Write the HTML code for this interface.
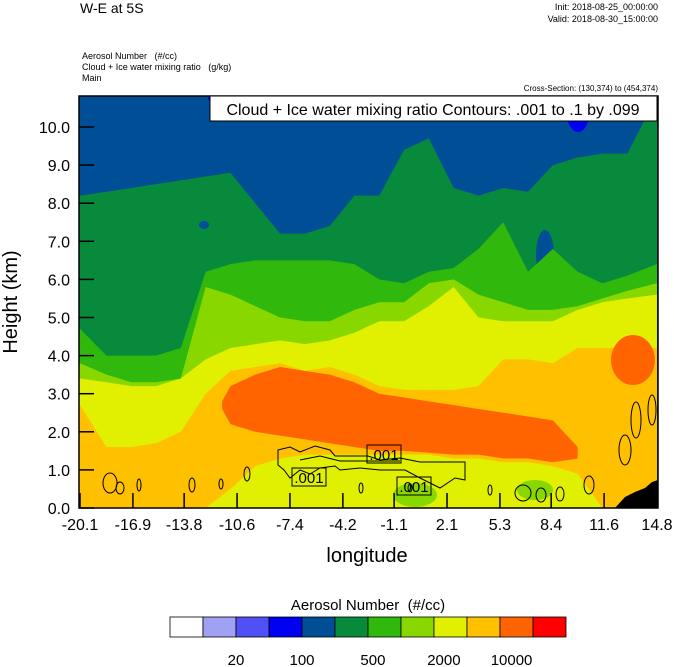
<!DOCTYPE html>
<html><head><meta charset="utf-8"><style>
body{margin:0;background:#fff;width:674px;height:667px;overflow:hidden;font-family:"Liberation Sans",sans-serif}
svg{position:absolute;left:0;top:0}
</style></head><body>
<svg id="chart" width="674" height="667" font-family="Liberation Sans, sans-serif">
<defs><clipPath id="pc"><rect x="79" y="96" width="579" height="412"/></clipPath></defs>
<text x="80" y="13" font-size="14">W-E at 5S</text>
<text x="658" y="10" font-size="9" text-anchor="end">Init: 2018-08-25_00:00:00</text>
<text x="658" y="22" font-size="9" text-anchor="end">Valid: 2018-08-30_15:00:00</text>
<text x="82" y="59" font-size="9" xml:space="preserve">Aerosol Number   (#/cc)</text>
<text x="82" y="70" font-size="9" xml:space="preserve">Cloud + Ice water mixing ratio   (g/kg)</text>
<text x="82" y="81" font-size="9">Main</text>
<text x="658" y="91" font-size="8" text-anchor="end">Cross-Section: (130,374) to (454,374)</text>
<g id="field" clip-path="url(#pc)"></g>
<g id="axes"></g>
<rect x="210" y="96" width="447" height="25" fill="#fff" stroke="#000" stroke-width="1"/>
<text x="433" y="115" font-size="16" text-anchor="middle">Cloud + Ice water mixing ratio Contours: .001 to .1 by .099</text>
<text transform="translate(17,302) rotate(-90)" font-size="20" text-anchor="middle">Height (km)</text>
<text x="367" y="562" font-size="20" text-anchor="middle">longitude</text>
<text x="368" y="610" font-size="15" text-anchor="middle" xml:space="preserve">Aerosol Number  (#/cc)</text>
<g id="cbar"></g>
</svg>
<script>
const NS="http://www.w3.org/2000/svg";
const lons=[-20.1,-18.5,-17,-15.5,-14,-12.5,-11,-9.5,-8,-6.5,-5,-3.5,-2,-0.5,1,2.5,4,5.5,7,8.5,10,11.5,13,14.8];
const greenTop=[8.2,8.3,8.4,8.5,8.6,8.7,8.8,8.0,7.2,7.2,7.4,8.2,8.2,9.4,9.7,8.4,8.2,8.4,8.3,9.0,9.2,9.3,9.3,10.8];
const lightGreenTop=[4.7,4.0,4.0,4.0,4.2,6.2,6.4,6.5,6.5,6.5,6.5,6.4,6.0,5.9,6.2,6.3,6.8,7.5,6.2,6.8,6.2,5.9,6.1,6.4];
const yellowGreenTop=[3.8,3.5,3.3,3.3,3.4,5.8,5.6,5.3,5.0,4.9,4.9,5.2,5.4,5.4,5.9,6.0,5.6,5.4,5.2,5.2,5.3,5.5,5.7,5.9];
const yellowTop=[3.4,3.3,3.2,3.2,3.4,3.9,4.2,4.3,4.4,4.3,4.4,4.6,4.9,4.9,5.3,5.8,5.0,4.9,4.9,4.9,5.2,5.4,5.5,5.6];
const orangeTop=[2.7,1.6,1.6,1.7,2.0,3.0,3.6,3.7,3.8,3.6,3.7,3.5,3.2,3.1,3.1,3.1,3.2,3.9,3.9,3.8,4.2,4.2,4.2,4.2];
const orangeLow=[0,0,0,0,0,0,0.5,1.1,1.3,1.4,1.4,1.4,1.4,1.4,1.4,1.3,1.3,1.2,1.2,1.1,0.9,0,0,0];
const darkLons=[-11.5,-11,-9.5,-8,-6.5,-5,-3.5,-2,-0.5,1,2.5,4,5.5,7,8.5,10];
const darkTop=[2.8,3.2,3.5,3.7,3.6,3.5,3.3,3.0,2.9,2.8,2.7,2.6,2.5,2.4,2.3,1.6];
const darkLow=[2.6,2.2,2.0,1.9,1.8,1.7,1.6,1.5,1.5,1.45,1.4,1.4,1.3,1.3,1.2,1.3];
const yTicks=[0,1,2,3,4,5,6,7,8,9,10];
const xTicks=[-20.1,-16.9,-13.8,-10.6,-7.4,-4.2,-1.1,2.1,5.3,8.4,11.6,14.8];
const cbColors=["#ffffff","#a0a0f5","#5050f5","#0000f0","#004e96","#088a3c","#30b80c","#88d800","#e0f000","#ffc000","#ff6400","#ff0000"];
const cbLabelText=["20","100","500","2000","10000"];
const cbLabelSlot=[2,4,6.15,8.3,10.35];
const X=l=>80+(l+20.1)*577/34.9, Y=h=>508-h*38.1;
const field=document.getElementById('field');
function poly(ls,top,low,fill,name){
  let pts=ls.map((l,i)=>X(l)+','+Y(top[i]));
  for(let i=ls.length-1;i>=0;i--)pts.push(X(ls[i])+','+Y(low?low[i]:0));
  if(ls[0]===-20.1){pts.unshift('70,'+Y(top[0]));pts.push('70,'+Y(low?low[0]:0));}
  const p=document.createElementNS(NS,'polygon');
  p.setAttribute('points',pts.join(' '));p.setAttribute('fill',fill);
  
  
  field.appendChild(p);
}
function rect(x,y,w,h,f,n,par){const r=document.createElementNS(NS,'rect');r.setAttribute('x',x);r.setAttribute('y',y);r.setAttribute('width',w);r.setAttribute('height',h);r.setAttribute('fill',f);
  
  
  (par||field).appendChild(r);return r;}
function ell(cx,cy,rx,ry,f,n,stroke){const e=document.createElementNS(NS,'ellipse');e.setAttribute('cx',cx);e.setAttribute('cy',cy);e.setAttribute('rx',rx);e.setAttribute('ry',ry);e.setAttribute('fill',f);if(stroke){e.setAttribute('stroke','#000');e.setAttribute('stroke-width','1');}
  
  
  field.appendChild(e);}
rect(70,90,600,420,"#004e96","background-level");
ell(420,100,25,8,"#0000f0","blue-patch-1");ell(578,110,12,22,"#0000f0","blue-patch-2");ell(220,98,12,6,"#0000f0","blue-patch-3");
poly(lons,greenTop,null,"#088a3c","level-green");
ell(545,255,9,25,"#004e96","blue-blob-1");ell(420,297,12,7,"#004e96","blue-blob-2");ell(204,225,5,4,"#004e96","blue-blob-3");
poly(lons,lightGreenTop,null,"#30b80c","level-light-green");
poly(lons,yellowGreenTop,null,"#88d800","level-yellow-green");
poly(lons,yellowTop,null,"#e0f000","level-yellow");
poly(lons,orangeTop,orangeLow,"#ffc000","level-orange");
poly(darkLons,darkTop,darkLow,"#ff6400","level-dark-orange");
ell(633,360,22,25,"#ff6400","dark-orange-blob");
ell(535,490,18,10,"#88d800","yellow-green-patch-1");ell(415,495,22,12,"#88d800","yellow-green-patch-2");
const t=document.createElementNS(NS,'polygon');t.setAttribute('points','615,508 625,497 635,492 645,488 652,482 658,480 658,508');t.setAttribute('fill','#000');


field.appendChild(t);
const c=document.createElementNS(NS,'path');
c.setAttribute('d','M278,450 L290,447 L300,452 L315,446 L330,450 L335,456 L368,456 L380,460 L400,458 L420,462 L465,462 L465,480 L455,478 L440,488 L420,478 L405,470 L380,470 L360,468 L340,470 L335,466 L320,468 L310,474 L300,470 L290,478 L284,470 L278,465 Z M300,460 L320,456 L340,461 L400,461');
c.setAttribute('fill','none');c.setAttribute('stroke','#000');c.setAttribute('stroke-width','1');


field.appendChild(c);
[[110,483,7,10],[120,488,4,6],[139,485,2,6],[192,485,3,7],[221,484,2,5],[247,474,3,7],[361,488,2,5],[410,488,2,4],[523,493,8,8],[541,495,5,7],[560,494,4,7],[490,490,2,5],[589,485,5,9],[636,420,5,18],[625,450,6,15],[652,410,4,15]].forEach(e=>ell(e[0],e[1],e[2],e[3],"none","cloud-contour-cell",1));
[[367,445],[292,468],[397,477]].forEach(l=>{
  rect(l[0],l[1],34,18,"none","contour-label-box").setAttribute('stroke','#000');
  const tx=document.createElementNS(NS,'text');tx.setAttribute('x',l[0]+17);tx.setAttribute('y',l[1]+15);tx.setAttribute('font-size','15');tx.setAttribute('text-anchor','middle');tx.textContent='.001';
  
  
  field.appendChild(tx);
});
const ax=document.getElementById('axes');
const fr=rect(79,96,579,412,"none","plot-frame",ax);fr.setAttribute('stroke','#000');fr.setAttribute('stroke-width','1.5');
yTicks.forEach(v=>{
  const l=document.createElementNS(NS,'line');l.setAttribute('x1',79);l.setAttribute('x2',94);l.setAttribute('y1',Y(v));l.setAttribute('y2',Y(v));l.setAttribute('stroke','#000');l.setAttribute('stroke-width','1.5');
  
  
  ax.appendChild(l);
  const tx=document.createElementNS(NS,'text');tx.setAttribute('x',70);tx.setAttribute('y',Y(v)+6);tx.setAttribute('font-size','16');tx.setAttribute('text-anchor','end');tx.textContent=v.toFixed(1);
  
  
  ax.appendChild(tx);
});
xTicks.forEach(v=>{
  const l=document.createElementNS(NS,'line');l.setAttribute('x1',X(v));l.setAttribute('x2',X(v));l.setAttribute('y1',493);l.setAttribute('y2',508);l.setAttribute('stroke','#000');l.setAttribute('stroke-width','1.5');
  
  
  ax.appendChild(l);
  const tx=document.createElementNS(NS,'text');tx.setAttribute('x',X(v));tx.setAttribute('y',530);tx.setAttribute('font-size','16');tx.setAttribute('text-anchor','middle');tx.textContent=v.toFixed(1);
  
  
  ax.appendChild(tx);
});
const cb=document.getElementById('cbar');
const bw=396/cbColors.length;
cbColors.forEach((col,i)=>{const r=rect(170+i*bw,617,bw,20,col,"colorbar-box",cb);r.setAttribute('stroke','#000');r.setAttribute('stroke-width','0.8');});
cbLabelText.forEach((s,i)=>{const tx=document.createElementNS(NS,'text');tx.setAttribute('x',170+cbLabelSlot[i]*bw);tx.setAttribute('y',665);tx.setAttribute('font-size','15');tx.setAttribute('text-anchor','middle');tx.textContent=s;
  
  
  cb.appendChild(tx);});
</script>
</body></html>
